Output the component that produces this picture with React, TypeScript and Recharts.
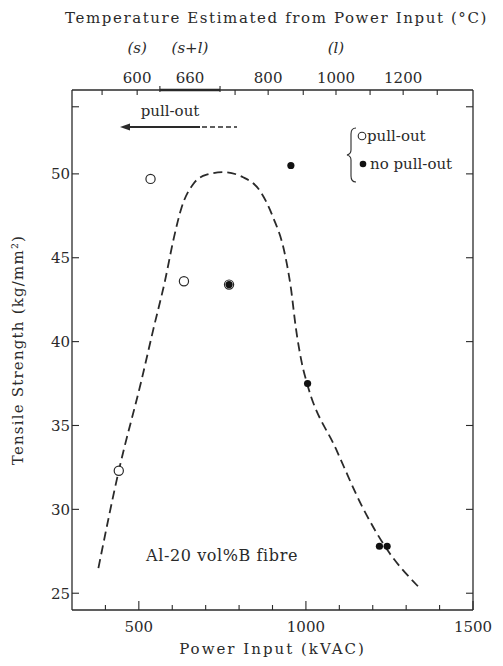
import { ComposedChart, Line, Scatter, XAxis, YAxis, ReferenceLine } from 'recharts';

// power input (kVAC) vs tensile strength (kg/mm²)
const pullOut = [
  { p: 440, t: 32.3 },
  { p: 535, t: 49.7 },
  { p: 635, t: 43.6 },
  { p: 770, t: 43.4 },
];
const noPullOut = [
  { p: 770, t: 43.4 },
  { p: 955, t: 50.5 },
  { p: 1005, t: 37.5 },
  { p: 1220, t: 27.8 },
  { p: 1243, t: 27.8 },
];
// hand-drawn dashed trend
const trend = [
  { p: 379, t: 26.5 },
  { p: 440, t: 32.3 },
  { p: 508, t: 37.7 },
  { p: 543, t: 40.7 },
  { p: 578, t: 43.6 },
  { p: 605, t: 46.2 },
  { p: 628, t: 48.0 },
  { p: 663, t: 49.4 },
  { p: 703, t: 49.95 },
  { p: 753, t: 50.1 },
  { p: 812, t: 49.8 },
  { p: 862, t: 49.0 },
  { p: 902, t: 47.4 },
  { p: 935, t: 45.4 },
  { p: 955, t: 43.2 },
  { p: 970, t: 40.8 },
  { p: 988, t: 38.7 },
  { p: 1005, t: 37.4 },
  { p: 1090, t: 33.6 },
  { p: 1170, t: 30.1 },
  { p: 1243, t: 27.6 },
  { p: 1336, t: 25.4 },
];

const bottomTicks = [400, 500, 600, 700, 800, 900, 1000, 1100, 1200, 1300, 1400, 1500];
const bottomLabels = [500, 1000, 1500];
const yTicks = [25, 30, 35, 40, 45, 50, 54];
const yLabels = [25, 30, 35, 40, 45, 50];

// temperature scale on top, positioned in power units
const topTickPower = [390, 495, 563, 653, 743, 788, 887, 992, 1090, 1192, 1291, 1393];
const topTickLabel = ['', '600', '', '660', '', '', '800', '', '1000', '', '1200', ''];
const topPhase = ['', '(s)', '', '(s+l)', '', '', '', '', '(l)', '', '', ''];
const sPlusL = [563, 743];

const INK = '#2a2a2a';
const FONT = '"DejaVu Serif", "Liberation Serif", serif';

const BottomTick = ({ x, y, payload }: any) => {
  const major = bottomLabels.includes(payload.value);
  return (
    <g>
      <line x1={x} x2={x} y1={y} y2={y - (major ? 9 : 5)} stroke={INK} strokeWidth={1.1} />
      {major && (
        <text x={x} y={y + 22} textAnchor="middle" fontSize={15} fill={INK} fontFamily={FONT}>
          {payload.value}
        </text>
      )}
    </g>
  );
};

const LeftTick = ({ x, y, payload }: any) => (
  <g>
    <line x1={x} x2={x + 7} y1={y} y2={y} stroke={INK} strokeWidth={1.1} />
    {yLabels.includes(payload.value) && (
      <text x={x - 2} y={y} dy="0.36em" textAnchor="end" fontSize={15} fill={INK} fontFamily={FONT}>
        {payload.value}
      </text>
    )}
  </g>
);

const RightTick = ({ x, y }: any) => (
  <line x1={x} x2={x - 7} y1={y} y2={y} stroke={INK} strokeWidth={1.1} />
);

const TopTick = ({ x, y, payload }: any) => {
  const i = topTickPower.indexOf(payload.value);
  const label = topTickLabel[i];
  const phase = topPhase[i];
  const isLabelOnly = label === '660';
  const up = sPlusL.includes(payload.value);
  return (
    <g>
      {!isLabelOnly && (
        <line x1={x} x2={x} y1={up ? y - 4 : y} y2={up ? y + 2 : y + 5} stroke={INK} strokeWidth={1.1} />
      )}
      {label && (
        <text x={x} y={y - 7} textAnchor="middle" fontSize={15} fill={INK} fontFamily={FONT}>
          {label}
        </text>
      )}
      {phase && (
        <text x={x} y={y - 37} textAnchor="middle" fontSize={15} fill={INK} fontFamily={FONT} fontStyle="italic">
          {phase}
        </text>
      )}
    </g>
  );
};

const OpenDot = ({ cx, cy }: any) => (
  <circle cx={cx} cy={cy} r={4.6} fill="#fff" stroke={INK} strokeWidth={1.2} />
);
const FilledDot = ({ cx, cy }: any) => <circle cx={cx} cy={cy} r={3.6} fill="#111" />;

export default function App() {
  return (
    <div style={{ position: 'relative', width: 487, height: 655, fontFamily: FONT }}>
      <ComposedChart width={487} height={655} margin={{ top: 0, right: 0, bottom: 0, left: 0 }}>
        <XAxis
          xAxisId="b"
          type="number"
          dataKey="p"
          domain={[300, 1500]}
          ticks={bottomTicks}
          interval={0}
          allowDataOverflow
          height={53}
          tickSize={0}
          tickMargin={0}
          tickLine={false}
          tick={<BottomTick />}
          axisLine={{ stroke: INK, strokeWidth: 1.3 }}
          label={{ value: 'Power Input (kVAC)', position: 'insideBottom', offset: 9, fontSize: 15, fill: INK, fontFamily: FONT, letterSpacing: 2 } as any}
        />
        <XAxis
          xAxisId="top"
          orientation="top"
          type="number"
          dataKey="p"
          domain={[300, 1500]}
          ticks={topTickPower}
          interval={0}
          allowDataOverflow
          height={82}
          tickSize={0}
          tickMargin={0}
          tickLine={false}
          tick={<TopTick />}
          axisLine={{ stroke: INK, strokeWidth: 1.3 }}
        />
        <YAxis
          yAxisId="l"
          type="number"
          domain={[24, 55]}
          ticks={yTicks}
          interval={0}
          allowDataOverflow
          width={64}
          tickSize={0}
          tickMargin={0}
          tickLine={false}
          tick={<LeftTick />}
          axisLine={{ stroke: INK, strokeWidth: 1.3 }}
          label={{ value: 'Tensile Strength (kg/mm²)', angle: -90, position: 'insideLeft', offset: 10, fontSize: 15, fill: INK, fontFamily: FONT, letterSpacing: 1.2, style: { textAnchor: 'middle' } } as any}
        />
        <YAxis
          yAxisId="r"
          orientation="right"
          type="number"
          domain={[24, 55]}
          ticks={yTicks}
          interval={0}
          allowDataOverflow
          width={22}
          tickSize={0}
          tickMargin={0}
          tickLine={false}
          tick={<RightTick />}
          axisLine={{ stroke: INK, strokeWidth: 1.3 }}
        />
        <ReferenceLine
          xAxisId="top"
          yAxisId="r"
          segment={[{ x: sPlusL[0], y: 55 }, { x: sPlusL[1], y: 55 }]}
          stroke={INK}
          strokeWidth={2.6}
          ifOverflow="visible"
        />
        <Line
          xAxisId="b"
          yAxisId="l"
          data={trend}
          dataKey="t"
          type="monotone"
          stroke={INK}
          strokeWidth={1.8}
          strokeDasharray="9 5"
          dot={false}
          isAnimationActive={false}
        />
        <Scatter xAxisId="b" yAxisId="l" data={pullOut} dataKey="t" shape={<OpenDot />} isAnimationActive={false} />
        <Scatter xAxisId="b" yAxisId="l" data={noPullOut} dataKey="t" shape={<FilledDot />} isAnimationActive={false} />
      </ComposedChart>
      <svg
        width={487}
        height={655}
        style={{ position: 'absolute', left: 0, top: 0, pointerEvents: 'none', overflow: 'visible' }}
        fontFamily={FONT}
        fill={INK}
      >
        <text x={57} y={15} fontSize={15} letterSpacing={1.6}>
          Temperature Estimated from Power Input (°C)
        </text>
        {/* pull-out arrow */}
        <text x={162} y={108} textAnchor="middle" fontSize={15}>pull-out</text>
        <line x1={118} x2={192} y1={119} y2={119} stroke={INK} strokeWidth={1.8} />
        <path d="M112 119 L122 115.5 L122 122.5 Z" fill={INK} />
        <line x1={194} x2={229} y1={119} y2={119} stroke={INK} strokeWidth={1.4} strokeDasharray="5 3" />
        {/* legend */}
        <path d="M348 120 Q343 120 343 126 L343 142 Q343 146 339 147 Q343 148 343 152 L343 168 Q343 174 348 174" fill="none" stroke={INK} strokeWidth={1.1} />
        <circle cx={354} cy={128} r={3.8} fill="#fff" stroke={INK} strokeWidth={1.1} />
        <text x={359} y={133} fontSize={15}>pull-out</text>
        <circle cx={355} cy={156} r={3.3} fill="#111" />
        <text x={362} y={161} fontSize={15}>no pull-out</text>
        <text x={214} y={553} textAnchor="middle" fontSize={16} letterSpacing={0.6}>Al-20 vol%B fibre</text>
      </svg>
    </div>
  );
}
